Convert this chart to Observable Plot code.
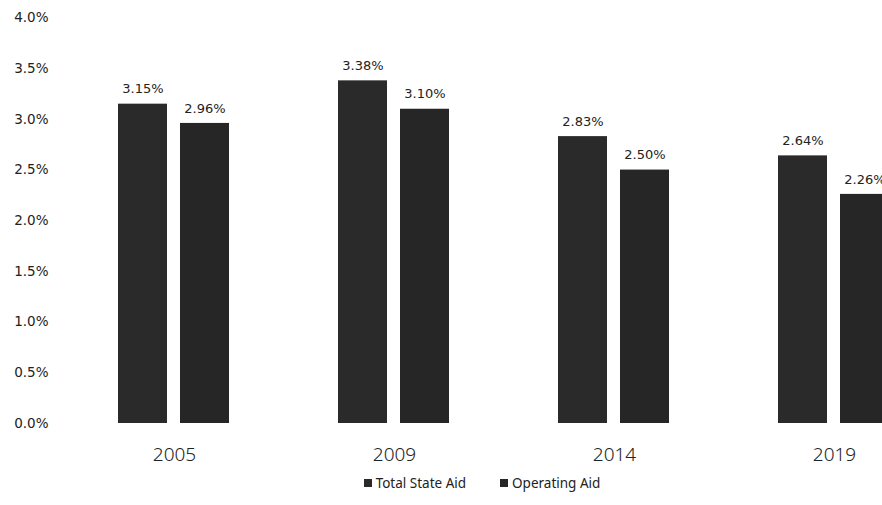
<!DOCTYPE html>
<html><head><meta charset="utf-8">
<script src="https://cdn.jsdelivr.net/npm/d3@7"></script>
<script src="https://cdn.jsdelivr.net/npm/@observablehq/plot@0.6"></script>
<style>
body{margin:0;background:#fff;}
#chart{width:882px;overflow:hidden;}
#legend{width:882px;box-sizing:border-box;padding-left:82px;display:flex;justify-content:center;}
#legend *{font-family:"Noto Sans",sans-serif !important;font-size:13.5px !important;color:#222;}
#legend span{margin-right:34px !important;}
#legend span:last-child{margin-right:0 !important;}
#legend svg{margin-right:4px !important;}
</style></head><body><div id="chart"></div><div id="legend"></div>
<script>
const years = ["2005","2009","2014","2019"];
const series = ["Total State Aid","Operating Aid"];
const totalStateAid = [3.15,3.38,2.83,2.64];
const operatingAid = [2.96,3.10,2.50,2.26];
const yTicks = [0,0.5,1,1.5,2,2.5,3,3.5,4];
const colors = ["#2a2a2a","#262626"];

const data = years.flatMap((year,i)=>[
 {year, series: series[0], value: totalStateAid[i]},
 {year, series: series[1], value: operatingAid[i]}
]);
const plot = Plot.plot({
 width:882, height:466, marginTop:17.5, marginBottom:43, marginLeft:63, marginRight:0,
 style:{background:"#fff", color:"#222"},
 fx:{domain:years, range:[63,945], padding:0, label:null},
 x:{domain:series, paddingInner:0.208, paddingOuter:0.868, axis:null},
 y:{domain:[0,4], axis:null},
 color:{domain:series, range:colors},
 marks:[
  Plot.barY(data,{fx:"year", x:"series", y:"value", fill:"series"}),
  Plot.text(data,{fx:"year", x:"series", y:"value", text:d=>d.value.toFixed(2)+"%", dy:-15, fontSize:13, fontFamily:"DejaVu Sans", fill:"#222"}),
  Plot.axisY({ticks:yTicks, tickSize:0, tickPadding:16, tickFormat:d=>d.toFixed(1)+"%", fontSize:13.5, fontFamily:"DejaVu Sans", label:null}),
  Plot.axisFx({anchor:"bottom", tickSize:0, tickPadding:24, fontSize:19, fontFamily:"Noto Sans", fontWeight:300, label:null})
 ]
});
document.getElementById("chart").appendChild(plot);
const legend = Plot.legend({color:{domain:series, range:colors}, swatchSize:8});
document.getElementById("legend").appendChild(legend);
</script></body></html>
